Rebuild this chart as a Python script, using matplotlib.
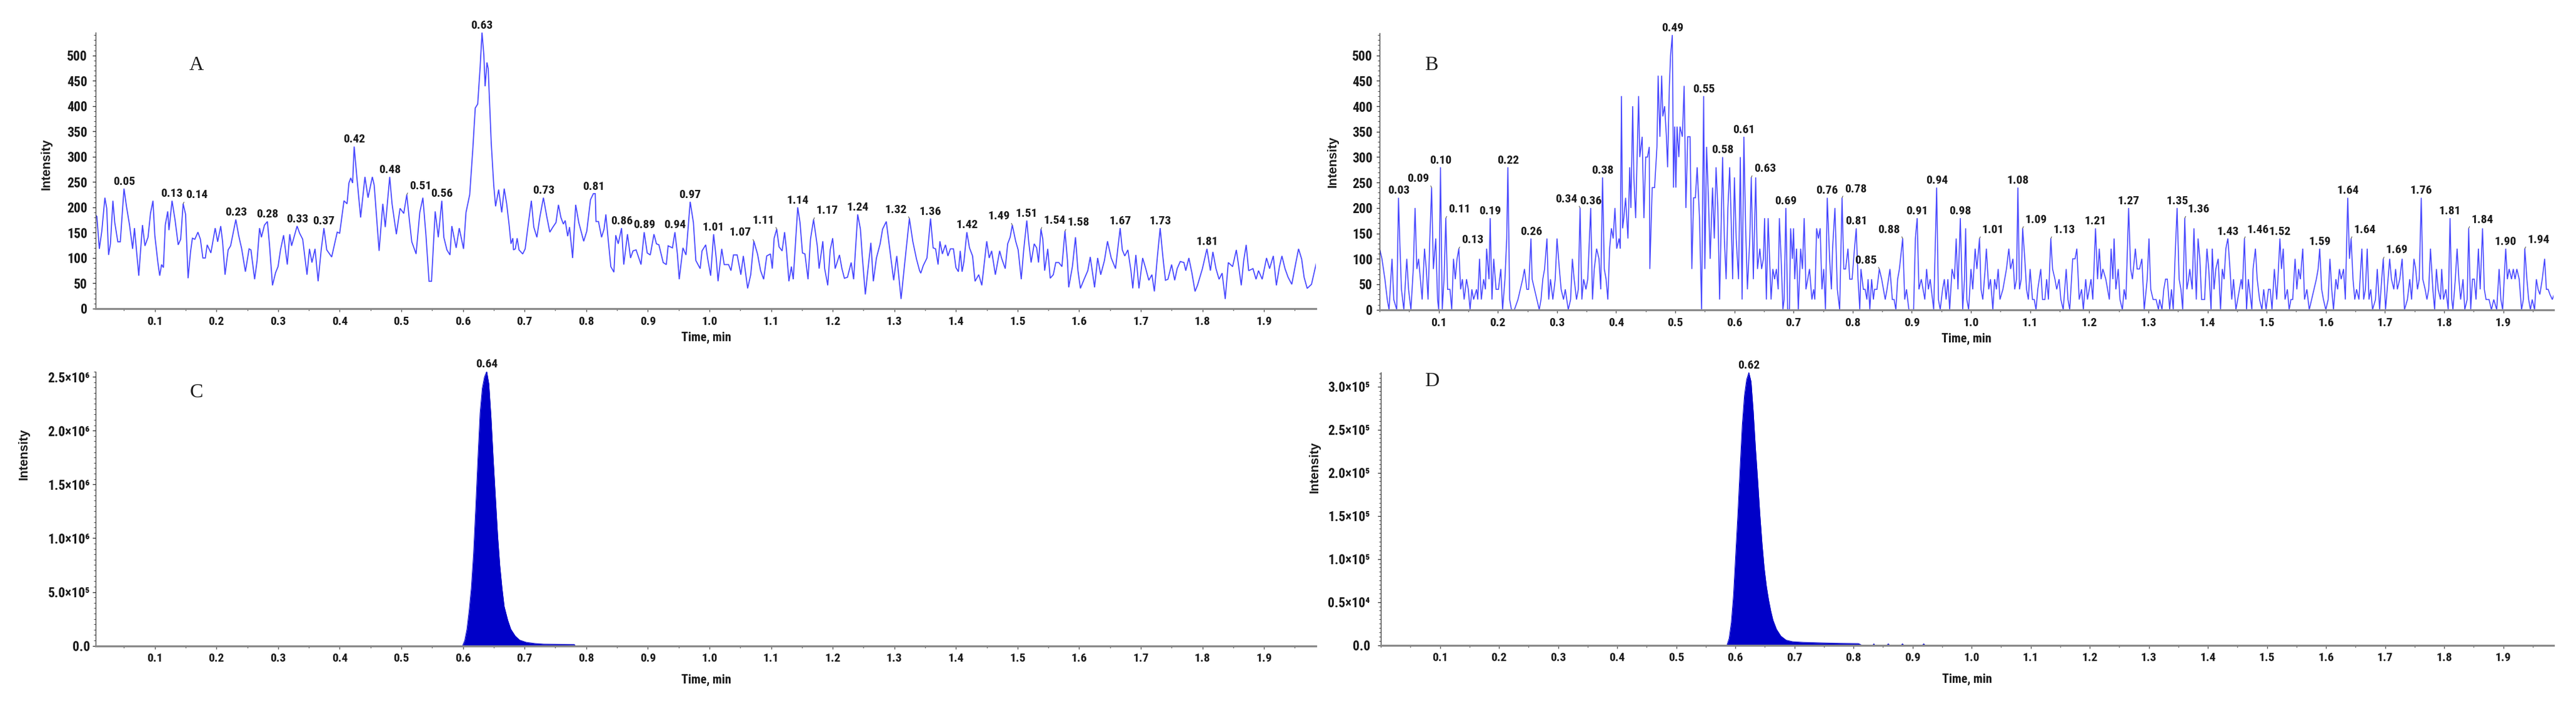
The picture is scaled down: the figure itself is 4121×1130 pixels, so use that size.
import numpy as np
import matplotlib
matplotlib.use("Agg")
import matplotlib.pyplot as plt
from matplotlib import font_manager as fm
from matplotlib.ticker import MultipleLocator

# ---------------- data: panel A (noisy trace) ----------------
A_time_1 = [0.003,0.006,0.010,0.014,0.019,0.022,0.025,0.028,0.032,0.035,
            0.040,0.044,0.050,0.054,0.059,0.064,0.067,0.074,0.077,0.080,
            0.084,0.089,0.093,0.097,0.100,0.105,0.108,0.111,0.114,0.117,
            0.121,0.123,0.128,0.133,0.138,0.142,0.146,0.150,0.154,0.158,
            0.161,0.165,0.170,0.174,0.178,0.182,0.185,0.191,0.198,0.202,
            0.207,0.210,0.214,0.219,0.223,0.2315,0.236,0.241,0.247,0.253,
            0.256,0.262,0.266,0.270,0.273,0.278,0.2827,0.286,0.291,0.296,
            0.300,0.304,0.309,0.315,0.319,0.322,0.3309,0.335,0.340,0.347,
            0.351,0.355,0.360,0.365,0.370,0.3744,0.379,0.387,0.396,0.400,
            0.407,0.412,0.415,0.418,0.421,0.4235,0.428,0.434,0.441,0.446,
            0.453,0.456,0.464,0.470,0.474,0.4812,0.485,0.492,0.498,0.504,
            0.5089,0.513,0.517,0.524,0.530,0.535,0.540,0.545,0.549,0.555,
            0.560,0.5657,0.569,0.574,0.579,0.582,0.589,0.594,0.601,0.605,
            0.611,0.616,0.620,0.624,0.628,0.631,0.634,0.636,0.639,0.641,
            0.646,0.650,0.653,0.658,0.663]
A_int_1 = [186,182,118,153,219,198,106,128,213,170,
           132,132,237,202,165,118,159,65,116,165,
           124,141,188,213,145,91,65,87,81,165,
           192,155,213,174,126,137,207,186,60,112,
           139,137,151,137,100,100,126,110,159,132,
           163,132,67,116,124,176,145,118,73,118,
           116,58,95,159,141,165,172,128,46,71,
           83,116,145,87,147,124,163,149,137,67,
           118,91,118,54,116,159,116,102,151,149,
           213,207,248,258,248,320,258,180,260,219,
           260,244,114,207,161,260,207,147,198,188,
           225,176,132,108,190,219,145,54,54,192,
           141,213,141,116,106,163,120,159,118,190,
           225,314,396,404,478,545,500,439,486,474,
           326,244,202,235,190]
A_time_2 = [0.667,0.671,0.675,0.678,0.681,0.682,0.685,0.688,0.691,0.697,
            0.701,0.705,0.711,0.715,0.720,0.725,0.7306,0.736,0.741,0.746,
            0.751,0.755,0.759,0.763,0.766,0.770,0.773,0.778,0.783,0.788,
            0.796,0.801,0.807,0.8117,0.8147,0.816,0.820,0.825,0.829,0.832,
            0.836,0.840,0.845,0.848,0.852,0.8574,0.861,0.867,0.872,0.876,
            0.881,0.889,0.8941,0.899,0.904,0.910,0.914,0.918,0.925,0.930,
            0.933,0.940,0.9440,0.948,0.951,0.957,0.962,0.9688,0.974,0.978,
            0.985,0.988,0.994,0.997,1.002,1.0068,1.011,1.014,1.020,1.024,
            1.031,1.035,1.039,1.045,1.051,1.055,1.062,1.067,1.0721,1.078,
            1.083,1.088,1.093,1.099,1.102,1.105,1.1092,1.113,1.118,1.122,
            1.125,1.129,1.133,1.136,1.139,1.1433,1.147,1.151,1.155,1.160,
            1.164,1.1690,1.175,1.178,1.184,1.187,1.192,1.196,1.200,1.204,
            1.211,1.215,1.219,1.224,1.230,1.234,1.2406,1.245,1.248,1.253,
            1.257,1.262,1.266,1.271,1.277,1.281,1.287,1.292,1.299,1.304,
            1.311,1.316,1.3245]
A_int_2 = [237,207,165,128,139,116,118,139,116,108,
           118,157,213,161,141,182,219,182,151,161,
           170,205,180,167,174,143,161,100,205,170,
           133,153,215,227,227,172,172,141,157,186,
           133,83,72,145,128,159,87,147,100,114,
           116,87,151,110,106,147,128,126,91,87,
           124,120,151,108,58,120,106,211,170,95,
           79,114,126,100,65,147,100,54,118,87,
           87,75,106,106,67,104,40,67,133,108,
           75,58,104,108,79,139,157,122,114,151,
           116,54,83,58,116,200,170,110,108,58,
           137,176,124,79,133,79,46,116,139,79,
           106,79,60,62,91,58,186,157,104,28,
           75,130,54,100,128,157,172,124,56,104,
           19,79,178]
A_time_3 = [1.330,1.336,1.341,1.343,1.347,1.353,1.3588,1.363,1.367,1.371,
            1.374,1.378,1.383,1.387,1.391,1.396,1.400,1.404,1.407,1.410,
            1.413,1.4177,1.422,1.427,1.431,1.437,1.442,1.450,1.454,1.458,
            1.464,1.471,1.474,1.480,1.484,1.488,1.4915,1.497,1.501,1.506,
            1.510,1.5150,1.518,1.522,1.527,1.531,1.534,1.5380,1.541,1.544,
            1.549,1.553,1.558,1.562,1.567,1.572,1.5769,1.581,1.583,1.589,
            1.594,1.598,1.602,1.608,1.614,1.618,1.625,1.630,1.635,1.641,
            1.646,1.652,1.659,1.6665,1.670,1.674,1.679,1.684,1.687,1.692,
            1.697,1.703,1.708,1.713,1.718,1.722,1.727,1.7314,1.736,1.740,
            1.744,1.750,1.755,1.759,1.764,1.770,1.773,1.778,1.783,1.788,
            1.792,1.800,1.8073,1.813,1.817,1.822,1.827,1.832,1.837,1.842,
            1.849,1.855,1.858,1.863,1.867,1.871,1.875,1.882,1.887,1.891,
            1.897,1.904,1.909,1.915,1.920,1.925,1.929,1.934,1.939,1.945,
            1.951,1.956,1.961,1.965,1.970,1.977,1.985]
A_int_3 = [133,98,75,70,85,100,178,120,118,87,
           133,108,126,104,118,118,81,73,114,73,
           93,151,120,104,54,67,46,133,100,114,
           67,114,100,79,128,141,165,133,116,58,
           116,174,133,91,128,120,91,157,137,75,
           118,60,67,91,91,83,153,95,42,83,
           141,75,40,58,75,102,42,100,67,95,
           133,100,79,159,116,104,116,75,40,106,
           40,100,79,56,67,34,104,159,100,56,
           58,87,56,79,93,91,75,100,70,34,
           46,79,118,75,112,79,58,70,19,91,
           83,116,91,46,95,126,75,79,58,75,
           58,100,79,104,46,83,104,79,62,48,
           87,118,98,62,40,48,91]

A_peak_text = ['0.05','0.13','0.14','0.23','0.28','0.33','0.37','0.42','0.48','0.51',
               '0.56','0.63','0.73','0.81','0.86','0.89','0.94','0.97','1.01','1.07',
               '1.11','1.14','1.17','1.24','1.32','1.36','1.42','1.49','1.51','1.54',
               '1.58','1.67','1.73','1.81']
A_peak_time = [0.0501,0.1282,0.1461,0.2315,0.2827,0.3309,0.3744,0.4235,0.4812,0.5089,
               0.5657,0.631,0.7306,0.8117,0.8574,0.8941,0.944,0.9688,1.0068,1.0721,
               1.1092,1.1433,1.169,1.2406,1.3245,1.3588,1.4177,1.4915,1.515,1.538,
               1.5769,1.6665,1.7314,1.8073]
A_peak_leader = ['','','L','','','','','','','L',
                 '','','','','','','','','','R',
                 'R','','L','','R','','','R','','L',
                 'L','','','']

# ---------------- data: panel B (spiky trace) ----------------
B_time_1 = [0.000,0.004,0.009,0.013,0.016,0.019,0.021,0.024,0.029,0.032,
            0.034,0.037,0.041,0.044,0.046,0.049,0.053,0.057,0.060,0.063,
            0.066,0.069,0.072,0.076,0.079,0.082,0.085,0.088,0.091,0.095,
            0.098,0.100,0.103,0.106,0.109,0.112,0.115,0.119,0.122,0.125,
            0.128,0.131,0.134,0.137,0.140,0.143,0.147,0.150,0.153,0.156,
            0.159,0.164,0.166,0.169,0.172,0.176,0.179,0.181,0.185,0.187,
            0.190,0.193,0.197,0.201,0.205,0.208,0.212,0.215,0.217,0.220,
            0.223,0.228,0.234,0.238,0.242,0.245,0.249,0.252,0.256,0.258,
            0.262,0.266,0.270,0.273,0.276,0.279,0.283,0.286,0.289,0.293,
            0.297,0.300,0.304,0.307,0.311,0.314,0.319,0.323,0.326,0.329,
            0.333,0.336,0.339,0.342,0.345,0.349,0.352,0.357,0.360,0.363,
            0.367,0.371,0.374,0.377,0.380,0.383,0.386,0.389,0.392,0.395,
            0.398,0.401,0.405,0.407,0.409,0.411,0.413,0.416,0.420,0.423,
            0.425,0.428,0.430,0.433,0.438,0.440,0.444,0.447,0.450,0.453,
            0.456,0.457,0.461,0.465,0.469,0.471,0.474,0.477,0.479,0.482,
            0.485,0.487,0.490,0.492,0.495,0.497,0.499,0.501,0.503,0.506,
            0.508,0.512,0.515,0.518,0.521,0.525,0.528,0.531,0.534,0.537,
            0.541,0.5445,0.548,0.550,0.553,0.556,0.559,0.563,0.566,0.569,
            0.572,0.575,0.580,0.583,0.586,0.589,0.592,0.594,0.597,0.600,
            0.603,0.607,0.610,0.613,0.616,0.619,0.622,0.626,0.6285,0.632,
            0.636,0.639,0.643,0.646,0.649,0.651,0.654,0.657]
B_int_1 = [120,100,60,20,0,60,100,20,0,220,
           140,40,0,60,100,40,0,80,200,80,
           100,60,20,120,80,20,140,240,80,140,
           20,0,280,0,60,180,40,40,0,100,
           60,100,120,40,60,20,60,40,0,40,
           20,40,20,100,20,60,40,120,60,180,
           20,100,40,40,80,0,60,140,280,20,
           0,0,20,40,60,80,40,40,140,60,
           40,20,0,20,60,80,140,20,60,20,
           60,140,80,40,20,40,0,20,100,60,
           20,40,200,20,60,40,60,200,20,80,
           120,100,40,260,80,60,20,120,160,140,
           200,120,140,120,420,160,180,220,140,280,
           200,400,260,180,420,300,340,180,300,300,
           320,80,240,240,320,460,340,460,380,400,
           340,280,440,500,540,240,360,240,360,300,
           360,340,440,200,340,340,80,220,220,280,
           180,0,420,80,320,220,100,240,140,280,
           200,20,300,140,60,200,280,200,60,260,
           140,60,300,20,340,160,40,140,260,60,
           260,80,120,80,100,180,20,180]
B_time_2 = [0.662,0.665,0.668,0.671,0.674,0.676,0.679,0.682,0.684,0.687,
            0.690,0.693,0.695,0.698,0.700,0.702,0.705,0.708,0.712,0.715,
            0.718,0.721,0.724,0.727,0.731,0.734,0.736,0.739,0.742,0.745,
            0.748,0.751,0.754,0.757,0.761,0.764,0.766,0.770,0.774,0.778,
            0.782,0.785,0.788,0.792,0.795,0.799,0.803,0.806,0.809,0.812,
            0.814,0.818,0.821,0.824,0.826,0.829,0.832,0.835,0.837,0.841,
            0.845,0.849,0.852,0.855,0.858,0.863,0.867,0.870,0.873,0.876,
            0.879,0.8845,0.888,0.891,0.895,0.899,0.903,0.906,0.909,0.912,
            0.916,0.919,0.922,0.925,0.928,0.931,0.937,0.942,0.945,0.948,
            0.952,0.955,0.958,0.961,0.964,0.968,0.972,0.975,0.978,0.982,
            0.986,0.989,0.991,0.993,0.996,1.000,1.003,1.007,1.010,1.0144,
            1.017,1.020,1.024,1.026,1.030,1.033,1.037,1.040,1.043,1.046,
            1.049,1.054,1.057,1.060,1.064,1.067,1.071,1.074,1.077,1.0794,
            1.082,1.085,1.0874,1.091,1.094,1.097,1.100,1.104,1.107,1.110,
            1.113,1.118,1.121,1.125,1.128,1.131,1.135,1.138,1.142,1.145,
            1.149,1.152,1.156,1.161,1.164,1.167,1.172,1.176,1.179,1.183,
            1.187,1.190,1.194,1.197,1.200,1.203,1.206,1.2106,1.214,1.217,
            1.220,1.223,1.228,1.231,1.234,1.237,1.240,1.242,1.245,1.249,
            1.252,1.256,1.259,1.262,1.2666,1.270,1.273,1.278,1.281,1.285,
            1.289,1.293,1.298,1.301,1.304,1.308,1.313,1.317]
B_int_2 = [20,80,60,80,40,180,100,0,20,200,
           0,0,160,100,160,60,120,0,120,80,
           180,40,60,80,20,40,20,160,140,160,
           40,80,0,220,100,40,120,200,40,0,
           220,80,80,120,60,60,120,160,60,0,
           80,40,40,20,60,0,60,20,40,40,
           80,60,40,20,40,80,20,20,0,60,
           80,140,20,40,0,0,0,140,180,40,
           60,40,20,80,40,60,0,240,20,0,
           40,60,20,60,0,80,60,140,40,180,
           0,60,160,20,0,80,40,120,80,140,
           40,20,80,120,40,60,0,60,40,80,
           20,40,60,80,120,80,100,40,60,240,
           40,60,160,100,40,20,80,20,20,0,
           40,80,20,20,60,20,140,80,60,40,
           60,20,0,80,20,0,100,100,120,20,
           40,0,60,20,40,60,20,160,60,120,
           60,80,60,40,20,120,60,140,40,80,
           20,0,40,20,200,80,60,120,80,80,
           100,0,60,140,40,20,20,0]
B_time_3 = [1.319,1.323,1.326,1.329,1.332,1.336,1.339,1.342,1.345,1.3485,
            1.352,1.355,1.358,1.3615,1.365,1.368,1.370,1.374,1.377,1.381,
            1.384,1.387,1.390,1.395,1.399,1.402,1.406,1.408,1.411,1.414,
            1.418,1.422,1.425,1.428,1.431,1.4344,1.438,1.441,1.444,1.448,
            1.451,1.457,1.459,1.4624,1.466,1.469,1.471,1.475,1.477,1.481,
            1.484,1.488,1.492,1.495,1.499,1.503,1.506,1.509,1.513,1.517,
            1.519,1.5224,1.525,1.528,1.531,1.535,1.538,1.541,1.544,1.548,
            1.551,1.554,1.557,1.561,1.564,1.568,1.572,1.576,1.580,1.584,
            1.587,1.5897,1.593,1.596,1.600,1.604,1.607,1.610,1.613,1.617,
            1.620,1.623,1.626,1.630,1.633,1.6371,1.640,1.6428,1.646,1.649,
            1.652,1.656,1.661,1.664,1.667,1.670,1.673,1.676,1.679,1.684,
            1.687,1.691,1.6945,1.6971,1.701,1.708,1.711,1.715,1.718,1.721,
            1.725,1.729,1.733,1.738,1.742,1.745,1.749,1.752,1.755,1.758,
            1.7614,1.764,1.768,1.771,1.774,1.777,1.781,1.784,1.787,1.790,
            1.794,1.796,1.799,1.803,1.807,1.8101,1.813,1.815,1.819,1.822,
            1.825,1.828,1.832,1.835,1.839,1.8416,1.845,1.848,1.851,1.854,
            1.858,1.861,1.865,1.868,1.871,1.876,1.880,1.884,1.889,1.893,
            1.896,1.899,1.9042,1.907,1.910,1.914,1.917,1.920,1.923,1.927,
            1.931,1.934,1.9365,1.940,1.943,1.946,1.949,1.953,1.956,1.959,
            1.962,1.966,1.970,1.973,1.976,1.979,1.983,1.986]
B_int_3 = [20,0,40,60,60,0,40,0,100,200,
           60,40,0,180,40,60,80,40,160,20,
           140,100,20,20,120,80,0,120,40,80,
           100,0,80,60,120,140,80,20,60,0,
           20,60,40,140,0,60,40,0,80,120,
           60,20,0,40,0,40,40,0,80,20,
           60,140,80,120,20,40,0,20,20,100,
           40,80,60,120,20,40,0,20,40,60,
           80,120,40,20,0,20,100,40,0,60,
           40,80,60,80,20,220,100,140,60,20,
           40,20,120,20,40,120,20,40,0,20,
           80,0,60,100,0,100,60,40,80,40,
           60,100,0,20,60,20,100,80,40,60,
           220,60,40,20,40,120,40,0,80,40,
           20,80,20,40,0,180,20,0,60,120,
           60,20,60,0,20,160,0,60,60,20,
           120,40,160,40,20,20,0,20,0,80,
           20,0,120,60,80,60,80,60,80,60,
           0,20,120,60,20,0,20,0,60,40,
           30,60,100,40,40,30,20,30]

B_peak_text = ['0.03','0.09','0.10','0.11','0.13','0.19','0.22','0.26','0.34','0.36',
               '0.38','0.49','0.55','0.58','0.61','0.63','0.69','0.76','0.78','0.81',
               '0.85','0.88','0.91','0.94','0.98','1.01','1.08','1.09','1.13','1.21',
               '1.27','1.35','1.36','1.43','1.46','1.52','1.59','1.64','1.64','1.69',
               '1.76','1.81','1.84','1.90','1.94']
B_peak_time = [0.032,0.088,0.103,0.112,0.134,0.187,0.217,0.256,0.339,0.357,
               0.377,0.495,0.548,0.580,0.616,0.6285,0.687,0.757,0.782,0.806,
               0.845,0.8845,0.909,0.942,0.982,1.0144,1.0794,1.0874,1.135,1.2106,
               1.2666,1.3485,1.3615,1.4344,1.4624,1.5224,1.5897,1.6371,1.6428,1.6971,
               1.7614,1.8101,1.8416,1.9042,1.9365]
B_peak_leader = ['','R','','L','L','','','','R','',
                 '','','','','','L','','','L','',
                 'R','R','','','','L','','L','L','',
                 '','','L','','L','','','','L','L',
                 '','','L','','L']

# ---------------- data: panels C and D (filled peaks) ----------------
C_time = [0.0,0.5995,0.603,0.6066,0.6101,0.6137,0.6173,0.6208,0.6244,0.6279,
          0.6315,0.635,0.6386,0.6421,0.6457,0.6492,0.6528,0.6564,0.6599,0.6635,
          0.667,0.6727,0.6777,0.6848,0.6919,0.7026,0.7168,0.7311,0.7595,0.7809,
          0.7823,1.985]
C_intensity = [0,0,4.9e4,1.54e5,3.23e5,5.34e5,8.51e5,1.273e6,1.737e6,2.16e6,
               2.392e6,2.497e6,2.55e6,2.434e6,2.117e6,1.737e6,1.378e6,1.02e6,7.45e5,5.34e5,
               3.65e5,2.39e5,1.54e5,9.1e4,5.3e4,3.2e4,2.1e4,1.5e4,1.3e4,1.1e4,
               0,0]
C_peak_text = ['0.64']
C_peak_time = [0.6386]

D_time = [0.0,0.586,0.5897,0.5934,0.5971,0.6008,0.6045,0.6082,0.6119,0.6156,
          0.6193,0.623,0.6267,0.6304,0.6341,0.6378,0.6415,0.6452,0.6489,0.6526,
          0.6563,0.6601,0.6638,0.6697,0.6771,0.686,0.6971,0.7157,0.7454,0.7751,
          0.8085,0.8137,0.833,0.8346,0.836,0.857,0.859,0.861,0.881,0.883,
          0.885,0.917,0.919,0.921,1.985]
D_intensity = [0,0,7.9e3,2.63e4,5.8e4,1.054e5,1.528e5,2.055e5,2.555e5,2.898e5,
               3.082e5,3.161e5,3.056e5,2.713e5,2.292e5,1.923e5,1.528e5,1.185e5,8.96e4,6.85e4,
               5.27e4,3.95e4,2.9e4,1.84e4,1.05e4,5.8e3,4.0e3,3.2e3,2.6e3,2.1e3,
               1.8e3,0,0,1.5e3,0,0,1.5e3,0,0,1.5e3,
               0,0,1.5e3,0,0]
D_peak_text = ['0.62']
D_peak_time = [0.623]

# ---------------- ticks / labels ----------------
X_TICKS = [0.1,0.2,0.3,0.4,0.5,0.6,0.7,0.8,0.9,1.0,1.1,1.2,1.3,1.4,1.5,1.6,1.7,1.8,1.9]
X_TICK_LABELS = ['0.1','0.2','0.3','0.4','0.5','0.6','0.7','0.8','0.9','1.0',
                 '1.1','1.2','1.3','1.4','1.5','1.6','1.7','1.8','1.9']
AB_Y_TICKS = [0,50,100,150,200,250,300,350,400,450,500]
AB_Y_LABELS = ['0','50','100','150','200','250','300','350','400','450','500']
C_Y_TICKS = [0,5e5,1.0e6,1.5e6,2.0e6,2.5e6]
C_Y_LABELS = ['0.0','5.0×10⁵','1.0×10⁶','1.5×10⁶','2.0×10⁶','2.5×10⁶']
D_Y_TICKS = [0,5e4,1.0e5,1.5e5,2.0e5,2.5e5,3.0e5]
D_Y_LABELS = ['0.0','0.5×10⁴','1.0×10⁵','1.5×10⁵','2.0×10⁵','2.5×10⁵','3.0×10⁵']
PANEL_LETTERS = ['A','B','C','D']
Y_LABEL = 'Intensity'
X_LABEL = 'Time, min'

# ---------------- fonts ----------------
_ttf = fm.fontManager.ttflist
_names = {f.name for f in _ttf}
if 'Liberation Sans Narrow' in _names:
    NARROW_FAM = ['Liberation Sans Narrow', 'DejaVu Sans']
    FS = dict(peak=14.5, xt=14.5, yt=16, xl=15)
elif 'Roboto Condensed' in _names:
    NARROW_FAM = ['Roboto Condensed', 'DejaVu Sans']
    FS = dict(peak=14, xt=14, yt=15.5, xl=14.5)
else:
    NARROW_FAM = ['Liberation Sans', 'DejaVu Sans']
    FS = dict(peak=12.3, xt=12.8, yt=14, xl=12.8)
SANS_FAM = ['Liberation Sans', 'DejaVu Sans']
SERIF_FAM = ['Liberation Serif', 'DejaVu Serif']

plt.rcParams['font.family'] = NARROW_FAM
plt.rcParams['font.weight'] = 'bold'

W, H = 4121, 1130
fig = plt.figure(figsize=(W / 100, H / 100), dpi=100)
fig.patch.set_facecolor('white')


def px_rect(left, right, top, bottom):
    return [left / W, 1 - bottom / H, (right - left) / W, (bottom - top) / H]


LINE_C = '#4646ff'
FILL_C = '#0000c8'
TXT_C = '#1a1a1a'

axA = fig.add_axes(px_rect(153, 2105, 52, 494))
axB = fig.add_axes(px_rect(2207, 4085, 53, 495.7))
axC = fig.add_axes(px_rect(153, 2105, 594.5, 1033.6))
axD = fig.add_axes(px_rect(2209, 4085, 596, 1032.6))


def style(ax, xlim, ylim, yticks, ylabels, yminor, ypad):
    ax.set_xlim(*xlim)
    ax.set_ylim(*ylim)
    ax.set_facecolor('white')
    for s in ('top', 'right'):
        ax.spines[s].set_visible(False)
    ax.spines['bottom'].set_color('#8a8a8a')
    ax.spines['bottom'].set_linewidth(2.3)
    ax.spines['left'].set_color('#3a3a3a')
    ax.spines['left'].set_linewidth(0.9)
    ax.set_xticks(X_TICKS)
    ax.set_xticklabels(X_TICK_LABELS)
    ax.xaxis.set_minor_locator(MultipleLocator(0.05))
    ax.set_yticks(yticks)
    ax.set_yticklabels(ylabels)
    ax.yaxis.set_minor_locator(MultipleLocator(yminor))
    ax.tick_params(axis='x', which='major', direction='out', length=3.5, width=1.0,
                   color='#555555', pad=5.0, labelsize=FS['xt'], labelcolor=TXT_C)
    ax.tick_params(axis='x', which='minor', direction='out', length=2.5, width=1.0,
                   color='#555555')
    ax.tick_params(axis='y', which='major', direction='out', length=3.5, width=1.0,
                   color='#333333', pad=ypad, labelsize=FS['yt'], labelcolor=TXT_C)
    ax.tick_params(axis='y', which='minor', direction='out', length=2.2, width=0.8,
                   color='#555555')


def peak_labels(ax, t, v, texts, times, leaders=None):
    t = np.asarray(t, dtype=float)
    v = np.asarray(v, dtype=float)
    if leaders is None:
        leaders = [''] * len(texts)
    for txt, tt, ld in zip(texts, times, leaders):
        i = int(np.argmin(np.abs(t - tt)))
        xy = (t[i], v[i])
        kw = dict(textcoords='offset points', va='bottom', fontsize=FS['peak'],
                  color=TXT_C, fontweight='bold', annotation_clip=False)
        if ld == 'L':
            ax.annotate(txt, xy, xytext=(3.0, 3.5), ha='left',
                        arrowprops=dict(arrowstyle='-', lw=0.7, color='#444444',
                                        shrinkA=0, shrinkB=0, relpos=(0.0, 0.2)), **kw)
        elif ld == 'R':
            ax.annotate(txt, xy, xytext=(-3.0, 3.5), ha='right',
                        arrowprops=dict(arrowstyle='-', lw=0.7, color='#444444',
                                        shrinkA=0, shrinkB=0, relpos=(1.0, 0.2)), **kw)
        else:
            ax.annotate(txt, xy, xytext=(0, 1.5), ha='center', **kw)


# Panel A
A_time = np.concatenate([A_time_1, A_time_2, A_time_3])
A_int = np.concatenate([A_int_1, A_int_2, A_int_3])
axA.plot(A_time, A_int, color=LINE_C, lw=1.25, solid_joinstyle='miter')
style(axA, (0.004, 1.984), (0, 545.2), AB_Y_TICKS, AB_Y_LABELS, 10, 6.0)
peak_labels(axA, A_time, A_int, A_peak_text, A_peak_time, A_peak_leader)

# Panel B
B_time = np.concatenate([B_time_1, B_time_2, B_time_3])
B_int = np.concatenate([B_int_1, B_int_2, B_int_3])
axB.plot(B_time, B_int, color=LINE_C, lw=1.15, solid_joinstyle='miter')
style(axB, (0.0, 1.985), (0, 543.7), AB_Y_TICKS, AB_Y_LABELS, 10, 4.5)
peak_labels(axB, B_time, B_int, B_peak_text, B_peak_time, B_peak_leader)

# Panel C
axC.fill_between(C_time, 0, C_intensity, color=FILL_C, lw=0)
axC.plot(C_time, C_intensity, color=FILL_C, lw=0.8)
style(axC, (0.004, 1.984), (0, 2.55e6), C_Y_TICKS, C_Y_LABELS, 5e4, 3.0)
peak_labels(axC, C_time, C_intensity, C_peak_text, C_peak_time)

# Panel D
axD.fill_between(D_time, 0, D_intensity, color=FILL_C, lw=0)
axD.plot(D_time, D_intensity, color=FILL_C, lw=0.8)
style(axD, (0.0, 1.985), (0, 3.164e5), D_Y_TICKS, D_Y_LABELS, 5e3, 9.0)
peak_labels(axD, D_time, D_intensity, D_peak_text, D_peak_time)

# Panel letters
for letter, (x, y) in zip(PANEL_LETTERS, [(314, 105), (2290, 104), (314, 629), (2291, 611)]):
    fig.text(x / W, 1 - y / H, letter, ha='center', va='center', fontsize=23,
             family=SERIF_FAM, fontweight='normal', color=TXT_C)

# Axis titles
for (x, y) in [(74, 263), (2132, 259), (38.6, 727), (2103, 748)]:
    fig.text(x / W, 1 - y / H, Y_LABEL, rotation=90, ha='center', va='center',
             fontsize=14.5, family=SANS_FAM, fontweight='bold', color=TXT_C)
for (x, y) in [(1130, 540), (3146, 542), (1130, 1088), (3147, 1087)]:
    fig.text(x / W, 1 - y / H, X_LABEL, ha='center', va='center',
             fontsize=FS['xl'], fontweight='bold', color=TXT_C)

fig.savefig('out.png', dpi=100, facecolor='white')
